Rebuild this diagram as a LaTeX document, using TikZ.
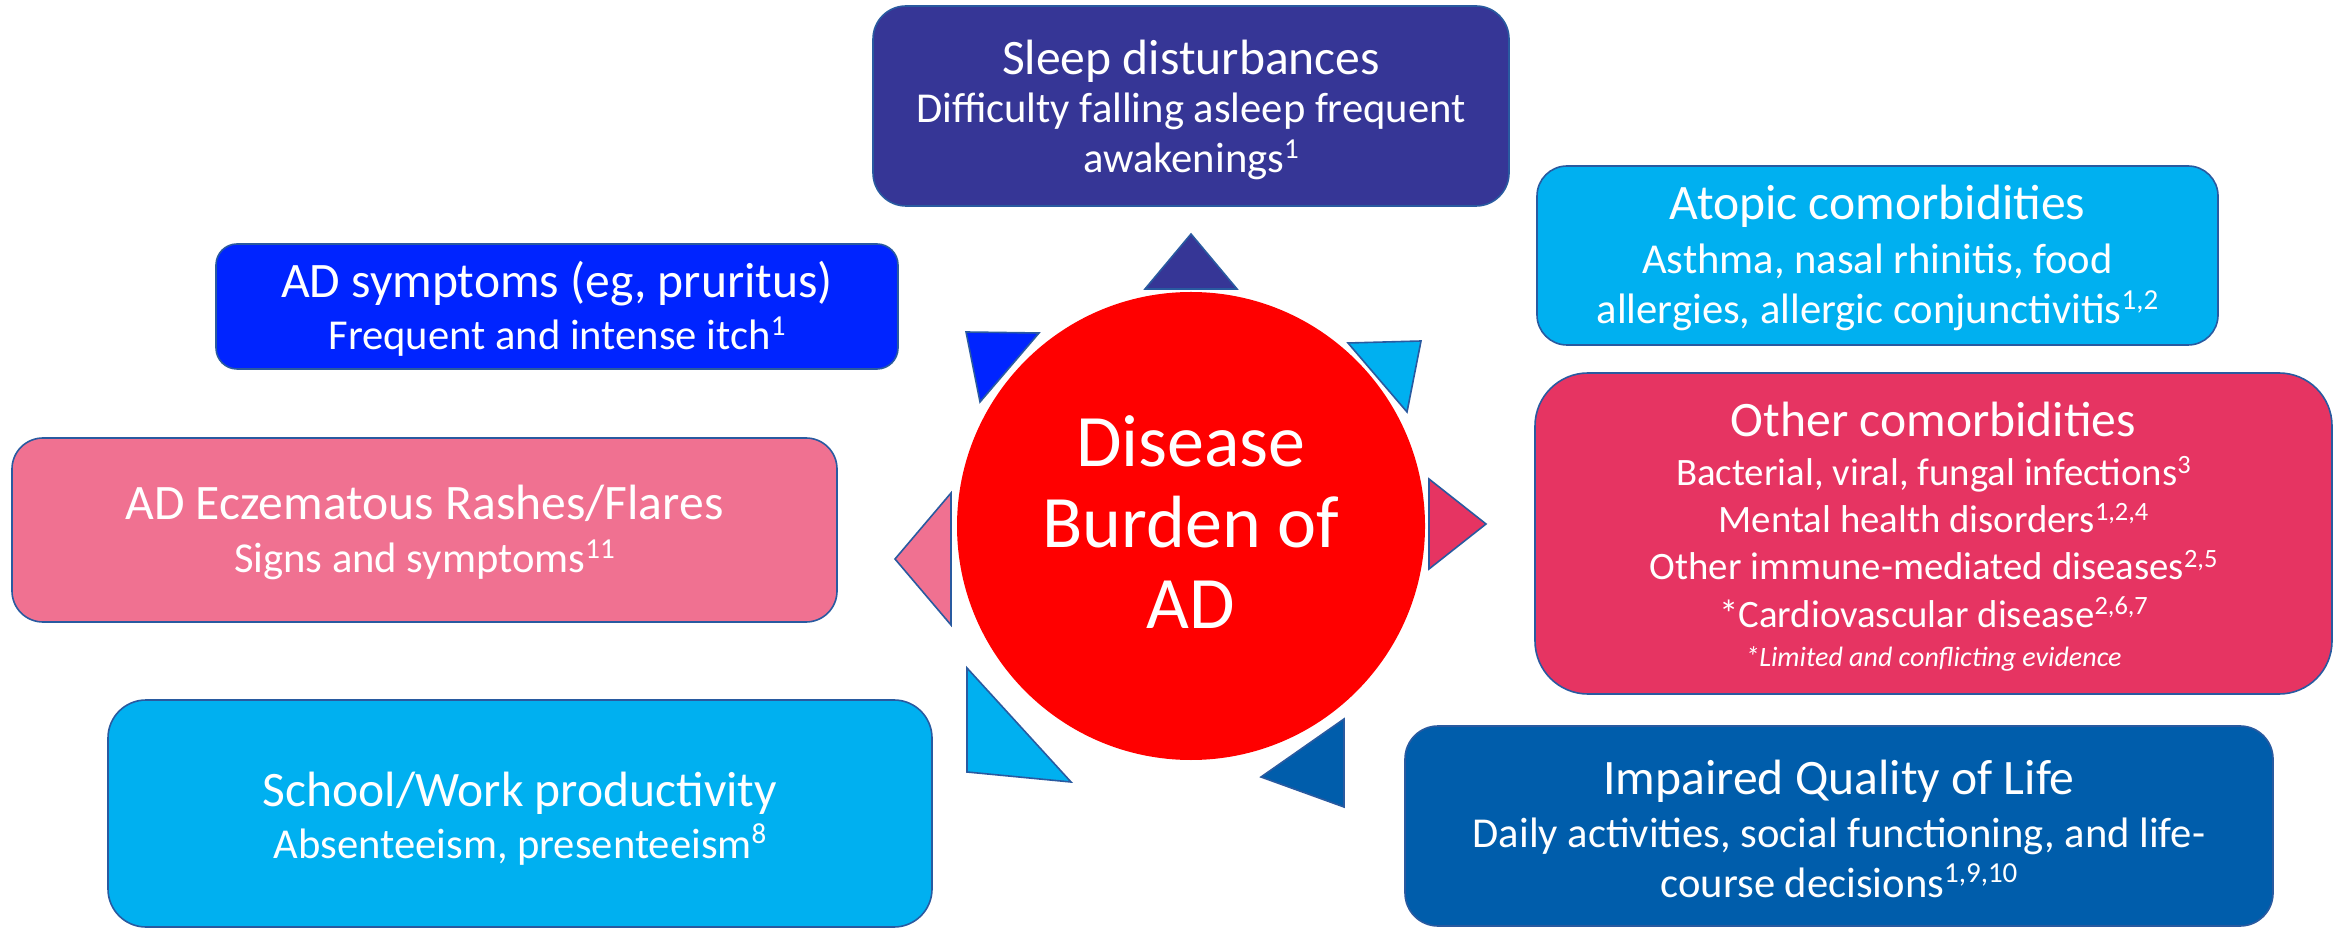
\documentclass[tikz,border=0pt]{standalone}
\usepackage{fontspec}
\setmainfont{Carlito}
\usepackage{graphicx}
\definecolor{edgec}{RGB}{41,90,160}
\definecolor{sleepc}{RGB}{54,54,150}
\definecolor{symc}{RGB}{0,36,255}
\definecolor{cyanc}{RGB}{0,176,240}
\definecolor{otherc}{RGB}{230,52,98}
\definecolor{eczc}{RGB}{240,113,145}
\definecolor{qolc}{RGB}{0,93,171}
\definecolor{circc}{RGB}{255,0,0}
\newcommand\sups[1]{\raisebox{0.33em}{\scalebox{0.68}{#1}}}
\begin{document}
\begin{tikzpicture}[x=0.5pt,y=-0.5pt,
  box/.style={draw=edgec, line width=0.8pt, rectangle, inner sep=0pt},
  tri/.style={draw=edgec, line width=0.8pt, line join=miter},
  tt/.style={text=white, anchor=base, inner sep=0pt, font=\fontsize{24.8pt}{29pt}\selectfont},
  st/.style={text=white, anchor=base, inner sep=0pt, font=\fontsize{21.3pt}{25pt}\selectfont},
  ot/.style={text=white, anchor=base, inner sep=0pt, font=\fontsize{19.4pt}{23pt}\selectfont},
  nt/.style={text=white, anchor=base, inner sep=0pt, font=\fontsize{14pt}{17pt}\selectfont\itshape},
  ct/.style={text=white, anchor=base, inner sep=0pt, font=\fontsize{37pt}{44pt}\selectfont}]
\useasboundingbox (0,0) rectangle (2343,929);

% boxes
\node[box, fill=sleepc, minimum width=318pt, minimum height=100pt, rounded corners=16.5pt] (sleep) at (1191,106) {};
\node[box, fill=cyanc, minimum width=340.5pt, minimum height=89.5pt, rounded corners=15pt] (atopic) at (1877.5,255.5) {};
\node[box, fill=otherc, minimum width=398.5pt, minimum height=160.5pt, rounded corners=26.5pt] (other) at (1933.5,533.5) {};
\node[box, fill=qolc, minimum width=434pt, minimum height=100pt, rounded corners=16.5pt] (qol) at (1839,826) {};
\node[box, fill=symc, minimum width=341pt, minimum height=62.5pt, rounded corners=10.5pt] (sym) at (557,306.5) {};
\node[box, fill=eczc, minimum width=412.5pt, minimum height=92pt, rounded corners=15.5pt] (ecz) at (424.5,530) {};
\node[box, fill=cyanc, minimum width=412pt, minimum height=113.5pt, rounded corners=19pt] (school) at (520,813.5) {};

% centre circle
\node[circle, fill=circc, draw=none, minimum size=234pt, inner sep=0pt] (core) at (1191,526) {};

% pointers
\filldraw[tri, fill=sleepc] (1191,234) -- (1145,289) -- (1237,289) -- cycle;
\filldraw[tri, fill=symc] (966,332) -- (1039,333) -- (980,402) -- cycle;
\filldraw[tri, fill=cyanc] (1348,343) -- (1421,341) -- (1407,412) -- cycle;
\filldraw[tri, fill=otherc] (1429,479) -- (1486,524) -- (1429,569) -- cycle;
\filldraw[tri, fill=qolc] (1344,719) -- (1261,777) -- (1344,807) -- cycle;
\filldraw[tri, fill=cyanc] (967,668) -- (967,772) -- (1071,782) -- cycle;
\filldraw[tri, fill=eczc] (951,493) -- (895,559) -- (951,625) -- cycle;

% texts
\node[ct] (coreA) at (1191,467) {Disease};
\node[ct] (coreB) at (1191,548) {Burden of};
\node[ct] (coreC) at (1191,629) {AD};

\node[tt] (sleepA) at (1191,75) {Sleep disturbances};
\node[st] (sleepB) at (1191,123) {Difficulty falling asleep frequent};
\node[st] (sleepC) at (1191,173) {awakenings\sups{1}};

\node[tt] (atopicA) at (1877.5,220) {Atopic comorbidities};
\node[st] (atopicB) at (1877.5,274) {Asthma, nasal rhinitis, food};
\node[st] (atopicC) at (1877.5,324) {allergies, allergic conjunctivitis\sups{1,2}};

\node[tt] (otherA) at (1933.5,437) {Other comorbidities};
\node[ot] (otherB) at (1933.5,486) {Bacterial, viral, fungal infections\sups{3}};
\node[ot] (otherC) at (1933.5,533) {Mental health disorders\sups{1,2,4}};
\node[ot] (otherD) at (1933.5,580) {Other immune-mediated diseases\sups{2,5}};
\node[ot] (otherE) at (1933.5,627) {*Cardiovascular disease\sups{2,6,7}};
\node[nt] (otherF) at (1933.5,666) {*Limited and conflicting evidence};

\node[tt] (qolA) at (1839,794) {Impaired Quality of Life};
\node[st] (qolB) at (1839,847) {Daily activities, social functioning, and life-};
\node[st] (qolC) at (1839,897) {course decisions\sups{1,9,10}};

\node[tt] (symA) at (557,298) {AD symptoms (eg, pruritus)};
\node[st] (symB) at (557,350) {Frequent and intense itch\sups{1}};

\node[tt] (eczA) at (424.5,520) {AD Eczematous Rashes/Flares};
\node[st] (eczB) at (424.5,573) {Signs and symptoms\sups{11}};

\node[tt] (schoolA) at (520,806) {School/Work productivity};
\node[st] (schoolB) at (520,858) {Absenteeism, presenteeism\sups{8}};
\end{tikzpicture}
\end{document}
